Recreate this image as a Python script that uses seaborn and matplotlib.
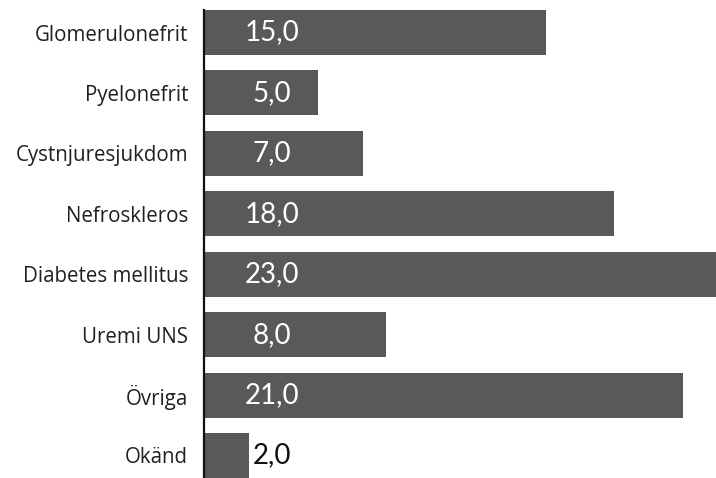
import matplotlib
matplotlib.use("Agg")
import matplotlib.pyplot as plt
import seaborn as sns
import pandas as pd

categories = ["Glomerulonefrit", "Pyelonefrit", "Cystnjuresjukdom", "Nefroskleros",
              "Diabetes mellitus", "Uremi UNS", "Övriga", "Okänd"]
values = [15.0, 5.0, 7.0, 18.0, 23.0, 8.0, 21.0, 2.0]

sns.set_theme(style="white")
plt.rcParams["font.family"] = ["Open Sans", "DejaVu Sans"]

df = pd.DataFrame({"diagnos": categories, "andel": values})

fig = plt.figure(figsize=(7.16, 4.78), dpi=100)
ax = fig.add_axes([203.5 / 716, 0.0, (716 - 203.5) / 716, (478 - 10) / 478])

bar_color = "#58595b"
sns.barplot(data=df, x="andel", y="diagnos", orient="h", color=bar_color,
            width=0.745, saturation=1, ax=ax, edgecolor="none")

ax.set_xlim(0, 22.46)
ax.set_ylim(len(categories) - 0.5 - (1 - 0.745) / 2, -0.5 + (1 - 0.745) / 2)

for i, v in enumerate(values):
    color = "white" if v > 3 else "#111111"
    ax.text(3.0, i, f"{v:.1f}".replace(".", ","), ha="center", va="center",
            fontsize=20, color=color, family=["Lato", "DejaVu Sans"])

ax.set_xlabel("")
ax.set_ylabel("")
ax.set_xticks([])
ax.tick_params(axis="y", length=0, pad=11, labelsize=14.8, labelcolor="#231f20")
for side in ["top", "right", "bottom"]:
    ax.spines[side].set_visible(False)
ax.spines["left"].set_color("#111111")
ax.spines["left"].set_linewidth(1.6)

fig.savefig("out.png", dpi=100)
